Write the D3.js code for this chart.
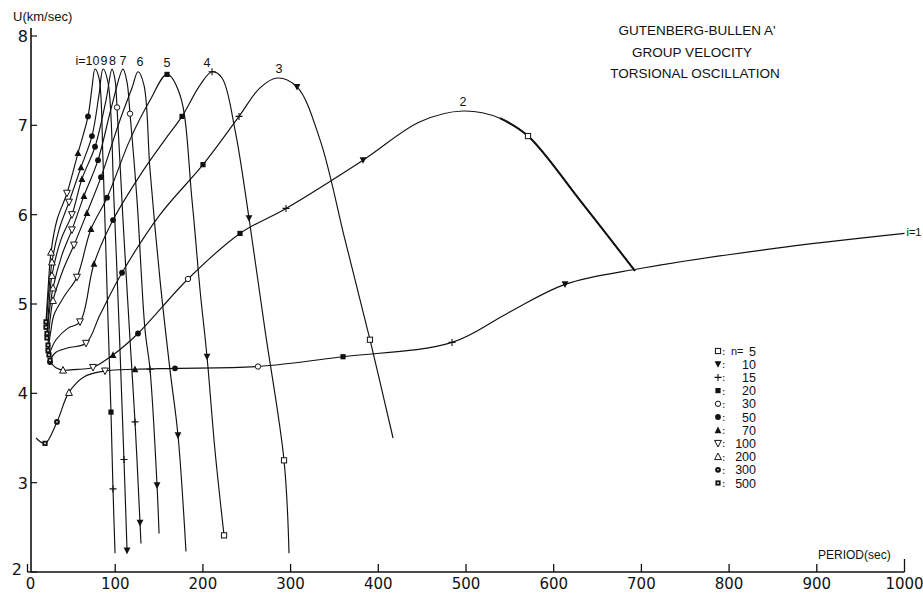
<!DOCTYPE html>
<html><head><meta charset="utf-8">
<script src="https://cdn.jsdelivr.net/npm/d3@7"></script>
<style>
body{margin:0;background:#fff}
svg{display:block}
text{font-family:"DejaVu Sans",sans-serif;fill:#111}
</style>
</head><body>
<svg id="chart" width="923" height="593"></svg>
<script>
// ---- data (period in sec, group velocity U in km/sec) ----
const xTicks=[0,100,200,300,400,500,600,700,800,900,1000];
const yTicks=[2,3,4,5,6,7,8];
const titleLines=["GUTENBERG-BULLEN A'","GROUP VELOCITY","TORSIONAL OSCILLATION"];
const legendN=[5,10,15,20,30,50,70,100,200,300,500];

const curve1=[[9.7,3.50],[20.0,3.44],[33.6,3.68],[47.3,4.01],[65.6,4.19],[88.4,4.25],[122.6,4.27],[168.2,4.28],[262.8,4.30],[359.8,4.41],[484.1,4.57],[548,4.90],[612.9,5.22],[700,5.40],[850,5.62],[1000,5.79]];
const curve2=[[25.7,4.35],[33.6,4.28],[40.5,4.26],[59.9,4.27],[74.7,4.29],[97.5,4.43],[126.0,4.67],[183.0,5.28],[242.3,5.79],[294.8,6.07],[382.6,6.61],[447.6,7.04],[496.6,7.16],[538.8,7.08],[570.7,6.88],[630.0,6.16],[692.7,5.37]];
const curve3=[[25.7,4.37],[32.5,4.46],[46.2,4.51],[66.7,4.56],[82.7,4.88],[107.8,5.35],[151.1,6.00],[200.1,6.56],[241.2,7.10],[265.1,7.42],[284.5,7.53],[307.3,7.43],[333.5,6.84],[362.0,5.72],[390.5,4.60],[416.8,3.50]];
const curve4=[[24.5,4.43],[32.5,4.60],[46.2,4.73],[59.9,4.80],[75.8,5.45],[97.5,5.94],[128.3,6.44],[156.8,6.84],[176.2,7.10],[196.7,7.45],[210.4,7.60],[221.8,7.53],[236.6,6.95],[252.6,5.96],[270.8,4.71],[292.5,3.25],[298.2,2.21]];
const curve5=[[23.4,4.48],[26.8,4.71],[30.2,4.88],[42.8,5.10],[56.4,5.30],[72.4,5.84],[90.7,6.19],[116.9,6.84],[139.7,7.28],[159.1,7.57],[173.9,7.34],[187.6,6.16],[196.7,5.16],[204.7,4.41],[213.8,3.36],[224.1,2.41]];
const curve6=[[23.4,4.54],[25.7,4.82],[29.1,5.04],[40.5,5.38],[53.0,5.66],[67.8,6.02],[83.8,6.42],[105.5,7.06],[119.2,7.42],[126.0,7.60],[132.8,7.45],[139.7,6.50],[151.1,5.27],[162.5,4.26],[171.6,3.53],[180.7,2.23]];
const curve7=[[22.2,4.62],[24.5,4.88],[29.1,5.18],[39.3,5.55],[50.7,5.83],[64.4,6.21],[80.4,6.61],[96.4,7.23],[108.9,7.63],[113.5,7.48],[116.9,7.13],[124.9,6.16],[134.0,4.71],[139.7,4.27],[147.7,2.97],[150.0,2.43]];
const curve8=[[22.2,4.67],[24.5,4.99],[27.9,5.32],[38.2,5.72],[50.7,6.00],[62.1,6.40],[77.0,6.76],[89.5,7.28],[96.4,7.63],[99.8,7.51],[102.1,7.20],[108.9,5.94],[116.9,4.60],[122.6,3.68],[128.3,2.55],[129.4,2.32]];
const curve9=[[21.1,4.74],[23.4,5.04],[27.9,5.47],[35.9,5.83],[47.3,6.14],[61.0,6.53],[73.5,6.88],[81.5,7.34],[86.1,7.63],[91.8,7.48],[98.6,6.16],[105.5,4.48],[110.0,3.26],[113.5,2.24]];
const curve10=[[21.1,4.80],[23.4,5.16],[26.8,5.58],[33.6,5.94],[45.0,6.24],[57.6,6.69],[69.0,7.10],[73.5,7.42],[77.0,7.63],[81.5,7.53],[86.1,6.61],[90.7,5.16],[95.2,3.79],[97.5,2.93],[99.8,2.21]];

// markers: [period, U, n]
const markers1=[[20.0,3.44,500],[33.6,3.68,300],[47.3,4.01,200],[88.4,4.25,100],[122.6,4.27,70],[168.2,4.28,50],[262.8,4.30,30],[359.8,4.41,20],[484.1,4.57,15],[612.9,5.22,10]];
const markers2=[[25.7,4.35,300],[40.5,4.26,200],[74.7,4.29,100],[97.5,4.43,70],[126.0,4.67,50],[183.0,5.28,30],[242.3,5.79,20],[294.8,6.07,15],[382.6,6.61,10],[570.7,6.88,5]];
const markers3=[[25.7,4.37,500],[66.7,4.56,100],[107.8,5.35,50],[200.1,6.56,20],[241.2,7.10,15],[307.3,7.43,10],[390.5,4.60,5]];
const markers4=[[24.5,4.43,500],[59.9,4.80,100],[75.8,5.45,70],[97.5,5.94,50],[176.2,7.10,20],[210.4,7.60,15],[252.6,5.96,10],[292.5,3.25,5]];
const markers5=[[23.4,4.48,500],[56.4,5.30,100],[72.4,5.84,70],[90.7,6.19,50],[159.1,7.57,20],[204.7,4.41,10],[224.1,2.41,5]];
const markers6=[[23.4,4.54,500],[29.1,5.04,200],[53.0,5.66,100],[67.8,6.02,70],[83.8,6.42,50],[171.6,3.53,10]];
const markers7=[[22.2,4.62,500],[29.1,5.18,200],[50.7,5.83,100],[64.4,6.21,70],[80.4,6.61,50],[116.9,7.13,30],[139.7,4.27,15],[147.7,2.97,10]];
const markers8=[[22.2,4.67,500],[27.9,5.32,200],[50.7,6.00,100],[62.1,6.40,70],[77.0,6.76,50],[102.1,7.20,30],[122.6,3.68,15],[128.3,2.55,10]];
const markers9=[[21.1,4.74,500],[27.9,5.47,200],[47.3,6.14,100],[61.0,6.53,70],[73.5,6.88,50],[110.0,3.26,15],[113.5,2.24,10]];
const markers10=[[21.1,4.80,500],[26.8,5.58,200],[45.0,6.24,100],[57.6,6.69,70],[69.0,7.10,50],[95.2,3.79,20],[97.5,2.93,15]];

const curves=[curve1,curve2,curve3,curve4,curve5,curve6,curve7,curve8,curve9,curve10];
const markerSets=[markers1,markers2,markers3,markers4,markers5,markers6,markers7,markers8,markers9,markers10];
// curve labels: [text, period, U, anchor]
const curveLabels=[["i=1",1000,5.76,"start"],["2",496.6,7.22,"middle"],["3",286.8,7.59,"middle"],["4",204.7,7.65,"middle"],["5",159.1,7.65,"middle"],["6",128.3,7.66,"middle"],["7",108.9,7.67,"middle"],["8",96.9,7.67,"middle"],["9",87.2,7.67,"middle"],["i=10",82.0,7.67,"end"]];

// ---- drawing ----
const svg=d3.select("#chart");
const x=d3.scaleLinear().domain([0,1000]).range([27.5,904.5]);
const y=d3.scaleLinear().domain([2,8]).range([572,36]);

// x axis
const gx=svg.append("g").attr("transform","translate(0,572)");
gx.append("line").attr("x1",x(0)).attr("x2",x(1000)).attr("stroke","#111").attr("stroke-width",1.6);
gx.selectAll("line.t").data(xTicks).join("line").attr("class","t")
  .attr("x1",d=>x(d)).attr("x2",d=>x(d)).attr("y1",0).attr("y2",d=>d===1000?-13:-8)
  .attr("stroke","#111").attr("stroke-width",1.3);
gx.selectAll("text").data(xTicks).join("text")
  .attr("x",d=>x(d)+(d===0?3:0)).attr("y",17).attr("text-anchor","middle")
  .style("font-size","15px").text(d=>d);

// y axis
const gy=svg.append("g");
gy.append("line").attr("x1",31).attr("x2",31).attr("y1",28).attr("y2",572).attr("stroke","#111").attr("stroke-width",1.6);
gy.selectAll("line.t").data(yTicks).join("line").attr("class","t")
  .attr("x1",31).attr("x2",37).attr("y1",d=>y(d)).attr("y2",d=>y(d)).attr("stroke","#111").attr("stroke-width",1.2);
gy.selectAll("text").data(yTicks).join("text")
  .attr("x",d=>d===2?22:28).attr("y",d=>y(d)+(d===2?3:6)).attr("text-anchor","end")
  .style("font-size","16px").text(d=>d);

svg.append("text").attr("x",13).attr("y",21).style("font-size","13px").style("font-family","'Liberation Sans',sans-serif").text("U(km/sec)");
svg.append("text").attr("x",818).attr("y",559).style("font-size","12px").style("font-family","'Liberation Sans',sans-serif").text("PERIOD(sec)");

// title
svg.selectAll("text.title").data(titleLines).join("text").attr("class","title")
  .attr("x",(d,i)=>[697,692,695][i]).attr("y",(d,i)=>35+i*21.5).attr("text-anchor","middle")
  .style("font-size","13.5px").style("font-family","'Liberation Sans',sans-serif").text(d=>d);

// curves
const line=d3.line().x(d=>x(d[0])).y(d=>y(d[1])).curve(d3.curveCatmullRom.alpha(0.5));
svg.append("g").selectAll("path").data(curves).join("path")
  .attr("d",line).attr("fill","none").attr("stroke","#111").attr("stroke-width",1.15);
// heavier stroke on the falling end of curve 2
svg.append("path").attr("d",line(curve2.slice(13))).attr("fill","none").attr("stroke","#111").attr("stroke-width",2);

// symbols
function drawSym(g,n,cx,cy){
  const s=2.6, k="#111";
  if(n===5){g.append("rect").attr("x",cx-s).attr("y",cy-s).attr("width",2*s).attr("height",2*s).attr("fill","#fff").attr("stroke",k).attr("stroke-width",1);}
  else if(n===10){g.append("path").attr("d",`M${cx-3.4},${cy-3}L${cx+3.4},${cy-3}L${cx},${cy+3.6}Z`).attr("fill",k);}
  else if(n===15){g.append("path").attr("d",`M${cx-3.5},${cy}H${cx+3.5}M${cx},${cy-3.5}V${cy+3.5}`).attr("stroke",k).attr("stroke-width",1.1);}
  else if(n===20){g.append("rect").attr("x",cx-s).attr("y",cy-s).attr("width",2*s).attr("height",2*s).attr("fill",k);}
  else if(n===30){g.append("circle").attr("cx",cx).attr("cy",cy).attr("r",2.7).attr("fill","#fff").attr("stroke",k).attr("stroke-width",1);}
  else if(n===50){g.append("circle").attr("cx",cx).attr("cy",cy).attr("r",2.9).attr("fill",k);}
  else if(n===70){g.append("path").attr("d",`M${cx-3.4},${cy+3}L${cx+3.4},${cy+3}L${cx},${cy-3.6}Z`).attr("fill",k);}
  else if(n===100){g.append("path").attr("d",`M${cx-3.4},${cy-3}L${cx+3.4},${cy-3}L${cx},${cy+3.6}Z`).attr("fill","#fff").attr("stroke",k).attr("stroke-width",1);}
  else if(n===200){g.append("path").attr("d",`M${cx-3.4},${cy+3}L${cx+3.4},${cy+3}L${cx},${cy-3.6}Z`).attr("fill","#fff").attr("stroke",k).attr("stroke-width",1);}
  else if(n===300){g.append("circle").attr("cx",cx).attr("cy",cy).attr("r",2.9).attr("fill",k);g.append("circle").attr("cx",cx).attr("cy",cy).attr("r",0.8).attr("fill","#fff");}
  else if(n===500){g.append("rect").attr("x",cx-s).attr("y",cy-s).attr("width",2*s).attr("height",2*s).attr("fill",k);g.append("rect").attr("x",cx-0.8).attr("y",cy-0.8).attr("width",1.6).attr("height",1.6).attr("fill","#fff");}
}
const gm=svg.append("g");
markerSets.forEach(ms=>ms.forEach(m=>drawSym(gm,m[2],x(m[0]),y(m[1]))));

// curve labels
svg.append("g").selectAll("text").data(curveLabels).join("text")
  .attr("x",d=>x(d[1])+(d[0]==="i=1"?2:0)).attr("y",d=>y(d[2])).attr("text-anchor",d=>d[3])
  .style("font-size",d=>d[0]==="i=1"?"11px":"12.5px").style("font-family","'Liberation Sans',sans-serif").text(d=>d[0]);

// legend
const lg=svg.append("g");
legendN.forEach((n,i)=>{
  const yy=351+i*13.2;
  drawSym(lg,n,718,yy);
  lg.append("text").attr("x",722).attr("y",yy+4).style("font-size","10px").text(":");
  if(i===0) lg.append("text").attr("x",731).attr("y",yy+4).style("font-size","11px").style("font-family","'Liberation Sans',sans-serif").text("n=");
  lg.append("text").attr("x",756).attr("y",yy+4.5).attr("text-anchor","end").style("font-size","12.5px").style("font-family","'Liberation Sans',sans-serif").text(n);
});
</script>
</body></html>
